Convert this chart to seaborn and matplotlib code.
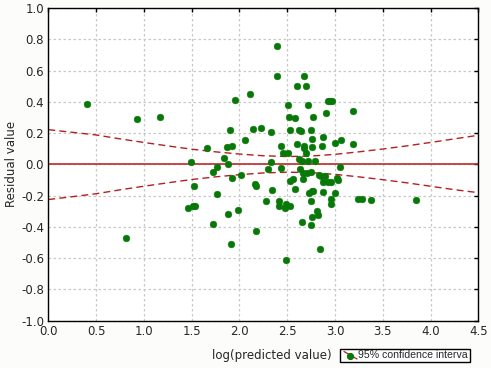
import matplotlib
matplotlib.use("Agg")
import matplotlib.pyplot as plt
import seaborn as sns
import pandas as pd
from matplotlib.patches import Rectangle
from matplotlib.lines import Line2D

# ---- data ----
pred_log = [0.405, 0.924, 1.172, 0.813, 1.489, 1.524, 1.458, 1.517, 1.538, 1.664,
            1.720, 1.768, 1.768, 1.723, 1.838, 1.870, 1.897, 1.925, 1.884, 1.925,
            1.884, 1.908, 1.957, 1.981, 2.013, 2.058, 2.114, 2.145, 2.163, 2.173,
            2.229, 2.173, 2.274, 2.302, 2.334, 2.334, 2.341, 2.389, 2.389, 2.417,
            2.417, 2.431, 2.435, 2.459, 2.473, 2.487, 2.487, 2.504, 2.508, 2.515,
            2.529, 2.532, 2.529, 2.560, 2.585, 2.585, 2.602, 2.605, 2.619, 2.640,
            2.623, 2.651, 2.637, 2.651, 2.661, 2.661, 2.675, 2.679, 2.679, 2.693,
            2.693, 2.707, 2.721, 2.717, 2.724, 2.745, 2.752, 2.749, 2.745, 2.759,
            2.763, 2.769, 2.769, 2.763, 2.794, 2.808, 2.825, 2.835, 2.839, 2.853,
            2.863, 2.877, 2.877, 2.877, 2.898, 2.902, 2.923, 2.947, 2.972, 2.954,
            2.954, 2.954, 2.996, 2.996, 3.021, 3.031, 3.055, 3.066, 3.185, 3.185,
            3.244, 3.286, 3.373, 3.851, 2.925, 2.756]
residual = [0.388, 0.290, 0.305, -0.469, 0.013, -0.139, -0.281, -0.267, -0.267, 0.102,
            -0.051, -0.015, -0.190, -0.380, 0.040, 0.111, 0.217, 0.119, 0.004, -0.087,
            -0.316, -0.512, 0.414, -0.290, -0.066, 0.156, 0.448, 0.228, -0.128, -0.136,
            0.235, -0.424, -0.237, -0.032, 0.209, 0.013, -0.166, 0.759, 0.563, -0.237,
            -0.264, 0.119, -0.021, 0.075, -0.281, -0.254, -0.610, 0.377, 0.075, 0.305,
            -0.264, 0.220, -0.107, -0.096, -0.156, 0.299, 0.128, 0.501, 0.220, 0.211,
            0.032, 0.019, -0.032, -0.371, -0.058, -0.094, 0.563, 0.119, 0.107, 0.501,
            0.070, -0.058, 0.377, 0.021, -0.181, 0.217, -0.051, -0.237, -0.388, 0.164,
            0.111, 0.301, -0.171, -0.335, 0.021, -0.301, -0.324, -0.066, -0.544, -0.075,
            0.119, 0.173, -0.111, -0.175, -0.077, 0.326, 0.403, 0.403, 0.403, -0.111,
            -0.220, -0.254, 0.139, -0.181, -0.085, -0.102, -0.015, 0.156, 0.343, 0.128,
            -0.220, -0.220, -0.228, -0.228, -0.111, -0.171]

ci_x = [0.0, 0.25, 0.5, 0.75, 1.0, 1.25, 1.5, 1.75, 2.0, 2.25, 2.5, 2.75,
        3.0, 3.25, 3.5, 3.75, 4.0, 4.25, 4.5]
ci_upper = [0.222, 0.205, 0.188, 0.163, 0.140, 0.118, 0.097, 0.080, 0.066, 0.055,
            0.050, 0.053, 0.064, 0.080, 0.098, 0.118, 0.140, 0.163, 0.186]
ci_lower = [-0.225, -0.207, -0.188, -0.163, -0.140, -0.118, -0.097, -0.080, -0.066, -0.055,
            -0.050, -0.053, -0.064, -0.080, -0.098, -0.118, -0.140, -0.162, -0.181]

x_ticks = [0.0, 0.5, 1.0, 1.5, 2.0, 2.5, 3.0, 3.5, 4.0, 4.5]
y_ticks = [-1.0, -0.8, -0.6, -0.4, -0.2, 0.0, 0.2, 0.4, 0.6, 0.8, 1.0]
x_label = "log(predicted value)"
y_label = "Residual value"
legend_label = "95% confidence interva"

# ---- styling ----
sns.set_style("white")
plt.rcParams['font.family'] = ['DejaVu Sans']

W, H = 491, 368
fig = plt.figure(figsize=(W / 100, H / 100), dpi=100, facecolor="#fcfcfa")
ax = fig.add_axes([48.3 / W, 1 - 320.7 / H, 430.0 / W, 312.7 / H])
ax.set_facecolor("white")

df = pd.DataFrame({"x": pred_log, "y": residual})
ci = pd.DataFrame({"x": ci_x, "up": ci_upper, "lo": ci_lower})

ax.grid(True, color="#c8c8c8", linestyle=(0, (2, 2)), linewidth=0.9)
ax.set_axisbelow(True)

ax.axhline(0.0, color="#c02a2a", linewidth=1.2, zorder=2)
for col in ["up", "lo"]:
    sns.lineplot(data=ci, x="x", y=col, ax=ax, color="#b52020", linewidth=1.0,
                 linestyle=(0, (5, 3)), zorder=2, estimator=None, sort=False)

sns.scatterplot(data=df, x="x", y="y", ax=ax, color="#087808", s=24,
                edgecolor="#087808", linewidth=0.3, zorder=3)

ax.set_xlim(0, 4.5)
ax.set_ylim(-1.0, 1.0)
ax.set_xticks(x_ticks)
ax.set_yticks(y_ticks)
ax.set_xticklabels([f"{v:.1f}" for v in x_ticks])
ax.set_yticklabels([f"{v:.1f}" for v in y_ticks])
ax.tick_params(direction="in", length=3, width=1, color="black",
               top=True, right=True, labelsize=8.5, pad=3)
for s in ax.spines.values():
    s.set_visible(True)
    s.set_color("black")
    s.set_linewidth(1.0)

ax.set_xlabel("")
ax.set_ylabel(y_label, fontsize=8.5, labelpad=2)

fig.text(272 / W, 1 - 355.5 / H, x_label, fontsize=8.5, ha="center", va="center")

# legend box (drawn to match reference placement)
fig.patches.append(Rectangle((339.5 / W, 1 - 362 / H), 130.5 / W, 13.5 / H,
                             transform=fig.transFigure, facecolor="white",
                             edgecolor="black", linewidth=1.0))
fig.lines.append(Line2D([344 / W, 357 / W], [1 - 351.5 / H, 1 - 359 / H],
                        transform=fig.transFigure, color="#b52020", linewidth=0.9))
fig.lines.append(Line2D([349.5 / W], [1 - 355.5 / H], transform=fig.transFigure,
                        marker="o", markersize=4.2, color="#087808", linestyle="none"))
fig.text(357.5 / W, 1 - 355.5 / H, legend_label, fontsize=7.6, ha="left", va="center",
         family=["Liberation Sans", "DejaVu Sans"])

fig.savefig("out.png", dpi=100, facecolor=fig.get_facecolor())
